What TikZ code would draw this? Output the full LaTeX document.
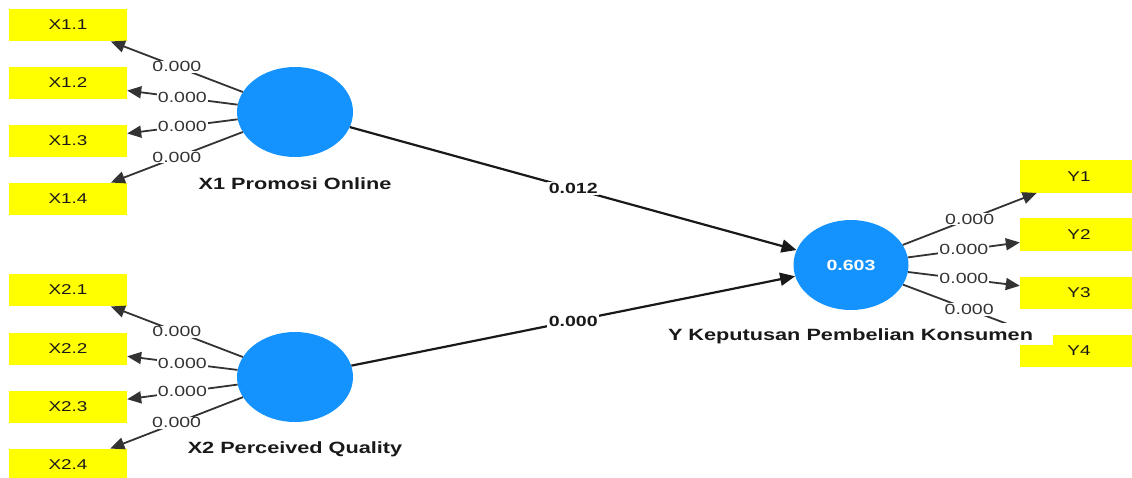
\documentclass[tikz,border=0pt]{standalone}
\usepackage{fontspec}
\setmainfont{Liberation Sans}
\usepackage{graphicx}
\usetikzlibrary{arrows.meta,shapes.geometric}
\definecolor{lvblue}{HTML}{1493FF}
\definecolor{boxyellow}{HTML}{FFFF00}
\definecolor{loadgray}{HTML}{333333}
\newcommand{\sx}[1]{\scalebox{1.33}[1]{#1}}
\tikzset{
  indbox/.style={fill=boxyellow, minimum width=118pt, minimum height=32.5pt, inner sep=0pt,
    font=\fontsize{14.2}{16}\selectfont, text=black!90},
  latent/.style={ellipse, fill=lvblue, minimum width=116pt, minimum height=90pt, inner sep=0pt,
    font=\fontsize{14.7}{16}\selectfont\bfseries, text=white},
  lvlabel/.style={font=\fontsize{16.3}{18}\selectfont\bfseries, text=black!90, anchor=base, inner sep=0pt},
  loading/.style={draw=loadgray, line width=1.8pt, -{Triangle[length=14pt,width=12pt]}},
  path/.style={draw=black!90, line width=2.2pt, -{Triangle[length=15pt,width=13pt]}},
  lval/.style={fill=white, inner sep=1pt, font=\fontsize{14.7}{16}\selectfont, text=loadgray},
  pval/.style={fill=white, inner sep=1.5pt, font=\fontsize{14.7}{16}\selectfont\bfseries, text=black!90},
}
\begin{document}
\begin{tikzpicture}[x=1pt, y=-1pt]
\useasboundingbox (0,0) rectangle (1132,477);
% indicator boxes
\node[indbox] (x11) at (68,25) {\sx{X1.1}};
\node[indbox] (x12) at (68,83) {\sx{X1.2}};
\node[indbox] (x13) at (68,141) {\sx{X1.3}};
\node[indbox] (x14) at (68,199) {\sx{X1.4}};
\node[indbox] (x21) at (68,290) {\sx{X2.1}};
\node[indbox] (x22) at (68,349) {\sx{X2.2}};
\node[indbox] (x23) at (68,407) {\sx{X2.3}};
\node[indbox] (x24) at (68,465) {\sx{X2.4}};
\node[indbox] (y1) at (1079,176.5) {\sx{Y1}};
\node[indbox] (y2) at (1079,234.5) {\sx{Y2}};
\node[indbox] (y3) at (1079,293) {\sx{Y3}};
\node[indbox] (y4) at (1079,351) {\sx{Y4}};
% latent variables
\node[latent] (X1) at (295,112) {};
\node[latent] (X2) at (295,377) {};
\node[latent, minimum width=115pt] (Y) at (851,265) {\sx{0.603}};
% loadings
\draw[loading] (X1) -- node[lval] {\sx{0.000}} (x11);
\draw[loading] (X1) -- node[lval] {\sx{0.000}} (x12);
\draw[loading] (X1) -- node[lval] {\sx{0.000}} (x13);
\draw[loading] (X1) -- node[lval] {\sx{0.000}} (x14);
\draw[loading] (X2) -- node[lval] {\sx{0.000}} (x21);
\draw[loading] (X2) -- node[lval] {\sx{0.000}} (x22);
\draw[loading] (X2) -- node[lval] {\sx{0.000}} (x23);
\draw[loading] (X2) -- node[lval] {\sx{0.000}} (x24);
\draw[loading] (Y) -- node[lval] {\sx{0.000}} (y1);
\draw[loading] (Y) -- node[lval] {\sx{0.000}} (y2);
\draw[loading] (Y) -- node[lval] {\sx{0.000}} (y3);
\draw[loading] (Y) -- node[lval] {\sx{0.000}} (y4);
% structural paths
\draw[path] (X1) -- node[pval] {\sx{0.012}} (Y);
\draw[path] (X2) -- node[pval] {\sx{0.000}} (Y);
% latent labels
\node[lvlabel] (lx1) at (295,189) {\sx{X1 Promosi Online}};
\node[lvlabel] (lx2) at (295,453) {\sx{X2 Perceived Quality}};
\node[lvlabel, fill=white, inner xsep=20pt, inner ysep=2pt, text height=15pt, text depth=3pt] (ly) at (850.5,340) {\sx{Y Keputusan Pembelian Konsumen}};
\end{tikzpicture}
\end{document}
